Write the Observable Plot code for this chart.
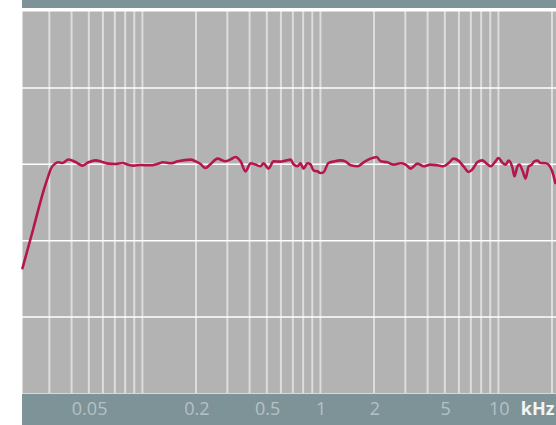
<!DOCTYPE html>
<html>
<head>
<meta charset="utf-8">
<script src="https://cdn.jsdelivr.net/npm/d3@7"></script>
<script src="https://cdn.jsdelivr.net/npm/@observablehq/plot@0.6"></script>
<style>
  html, body { margin: 0; padding: 0; background: #ffffff; }
  #wrap { position: relative; width: 556px; height: 425px; overflow: hidden; }
  .band { position: absolute; left: 22px; width: 534px; background: #7e9398; }
  #top { top: 0; height: 8px; }
  #bottom { top: 394px; height: 31px; }
  #chart { position: absolute; left: 0; top: 0; }
  #chart svg { background: transparent !important; }
</style>
</head>
<body>
<div id="wrap">
  <div class="band" id="top"></div>
  <div class="band" id="bottom"></div>
  <div id="chart"></div>
</div>
<script>
// Frequency (kHz) and level (dB)
const freq = [0.0212, 0.0244, 0.0278, 0.0297, 0.0305, 0.0325, 0.0338, 0.0356, 0.0384, 0.0421, 0.0461,
  0.0498, 0.0545, 0.0596, 0.0645, 0.0705, 0.0773, 0.0836, 0.0892, 0.0976, 0.111,
  0.121, 0.131, 0.144, 0.158, 0.186, 0.199, 0.212, 0.226, 0.241, 0.264,
  0.293, 0.313, 0.333, 0.356, 0.380, 0.405, 0.432, 0.461, 0.479, 0.511,
  0.545, 0.596, 0.637, 0.680, 0.706, 0.744, 0.773, 0.804, 0.846, 0.880,
  0.915, 0.962, 1.00, 1.04, 1.11, 1.18, 1.30, 1.38, 1.48, 1.62,
  1.75, 1.91, 2.07, 2.18, 2.38, 2.57, 2.82, 3.01, 3.21, 3.51,
  3.80, 4.15, 4.54, 4.91, 5.24, 5.59, 5.96, 6.37, 6.80, 7.15,
  7.63, 8.13, 8.68, 9.02, 9.63, 10.0, 10.6, 11.0, 11.4, 12.0,
  12.3, 12.8, 13.1, 13.7, 14.2, 14.8, 15.4, 15.9, 16.6, 17.2,
  18.4, 19.1, 20.2, 20.9];
const level = [-13.6, -8.4, -3.5, -1.44, -0.65, 0.13, 0.26, 0.17, 0.62, 0.3, -0.17,
  0.26, 0.52, 0.3, 0.09, 0.04, 0.17, -0.07, -0.17, -0.1, -0.13,
  0.04, 0.26, 0.13, 0.39, 0.61, 0.39, 0.04, -0.48, 0.0, 0.74,
  0.39, 0.65, 0.96, 0.39, -0.92, 0.13, -0.04, -0.26, 0.13, -0.56,
  0.39, 0.35, 0.48, 0.61, 0.0, -0.26, 0.13, -0.56, 0.13, 0.0,
  -0.82, -0.92, -1.14, -1.05, 0.17, 0.35, 0.52, 0.39, -0.13, -0.26,
  0.26, 0.74, 0.96, 0.39, 0.26, -0.04, 0.13, -0.04, -0.56, 0.09,
  -0.26, -0.04, -0.13, -0.26, 0.13, 0.74, 0.48, -0.26, -1.0, -0.65,
  0.3, 0.52, 0.0, -0.26, 0.39, 0.82, 0.13, -0.04, 0.48, -0.48,
  -1.57, -0.26, -0.04, -0.92, -1.87, -0.26, -0.04, 0.39, 0.5, 0.17,
  0.13, -0.04, -1.14, -2.45];

const tickLabels = [0.05, 0.2, 0.5, 1, 2, 5, 10];
const gridFreqs = [0.03, 0.04, 0.05, 0.06, 0.07, 0.08, 0.09,
  0.1, 0.2, 0.3, 0.4, 0.5, 0.6, 0.7, 0.8, 0.9,
  1, 2, 3, 4, 5, 6, 7, 8, 9, 10, 20];
const gridLevels = [10, 0, -10, -20];
const unitLabel = ["kHz"];

const data = freq.map((f, i) => ({f, db: level[i]}));

const chart = Plot.plot({
  width: 556,
  height: 425,
  marginTop: 11,
  marginBottom: 32,
  marginLeft: 22,
  marginRight: 0,
  style: {fontFamily: "'Open Sans', sans-serif", background: "transparent"},
  x: {type: "log", domain: [0.0212, 21.2], axis: null},
  y: {domain: [-30, 20], axis: null},
  marks: [
    Plot.frame({fill: "#b3b3b4", stroke: null}),
    Plot.ruleX(gridFreqs, {stroke: "#ffffff", strokeOpacity: 0.55, strokeWidth: 2}),
    Plot.ruleY(gridLevels, {stroke: "#ffffff", strokeWidth: 1.5}),
    Plot.line(data, {x: "f", y: "db", stroke: "#b5164f", strokeWidth: 2.6, curve: "monotone-x"}),
    Plot.text(tickLabels, {
      x: d => d, frameAnchor: "bottom", dy: 21, dx: 0.8, text: d => String(d),
      fontSize: 18, fill: "#b5c2c5", letterSpacing: "1.5px"
    }),
    Plot.text(unitLabel, {
      frameAnchor: "bottom-right", dy: 21, dx: -2, textAnchor: "end",
      fontSize: 18, fontWeight: "bold", fill: "#f2f5f5"
    })
  ]
});
document.getElementById("chart").appendChild(chart);
</script>
</body>
</html>
